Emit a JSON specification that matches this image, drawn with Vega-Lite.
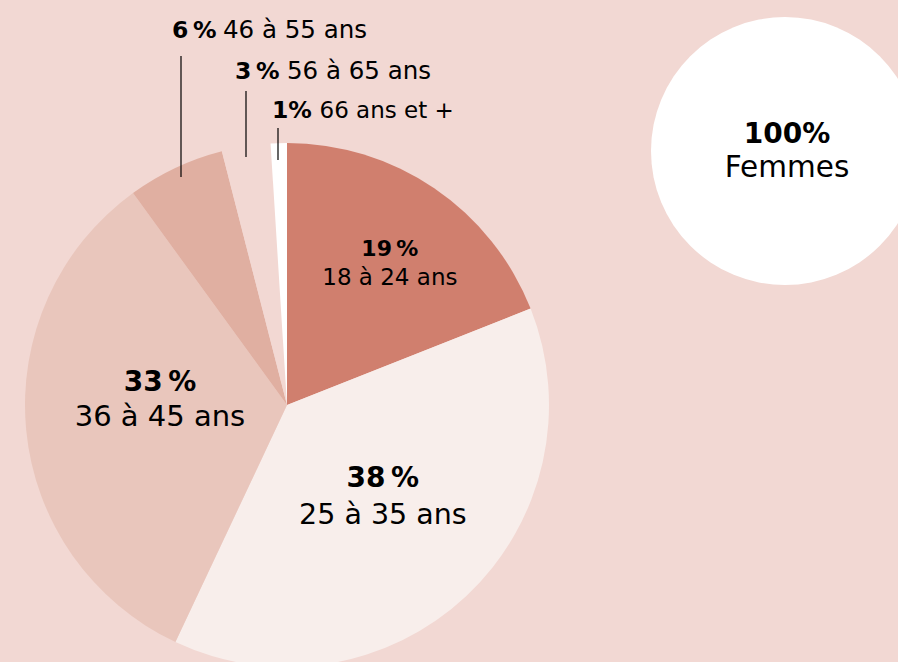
{
  "$schema": "https://vega.github.io/schema/vega-lite/v6.json",
  "width": 898,
  "height": 662,
  "padding": 0,
  "autosize": {"type": "none"},
  "background": "#f2d8d3",
  "config": {"view": {"stroke": null}, "font": "DejaVu Sans", "text": {"font": "DejaVu Sans", "color": "#000000"}},
  "datasets": {
    "ages": [
      {"tranche": "18 à 24 ans", "pct": 19, "rang": 1, "part": "19\u2009%"},
      {"tranche": "25 à 35 ans", "pct": 38, "rang": 2, "part": "38\u2009%"},
      {"tranche": "36 à 45 ans", "pct": 33, "rang": 3, "part": "33\u2009%"},
      {"tranche": "46 à 55 ans", "pct": 6, "rang": 4, "part": "6\u2009%"},
      {"tranche": "56 à 65 ans", "pct": 3, "rang": 5, "part": "3\u2009%"},
      {"tranche": "66 ans et +", "pct": 1, "rang": 6, "part": "1%"}
    ],
    "sexe": [
      {"sexe": "Femmes", "pct": 100, "part": "100%"}
    ]
  },
  "layer": [
    {
      "data": {"name": "ages"},
      "mark": {"type": "arc", "outerRadius": 262},
      "encoding": {
        "x": {"datum": 287, "type": "quantitative", "scale": {"domain": [0, 898], "nice": false, "zero": false}, "axis": null},
        "y": {"datum": 405, "type": "quantitative", "scale": {"domain": [0, 662], "nice": false, "zero": false, "reverse": true}, "axis": null},
        "theta": {"field": "pct", "type": "quantitative", "stack": true},
        "order": {"field": "rang"},
        "color": {"field": "tranche", "type": "nominal", "legend": null,
          "scale": {"domain": ["18 à 24 ans", "25 à 35 ans", "36 à 45 ans", "46 à 55 ans", "56 à 65 ans", "66 ans et +"],
                    "range": ["#d07f6e", "#f8eeeb", "#e9c6bc", "#e0afa1", "#f2d8d3", "#ffffff"]}}
      }
    },
    {
      "data": {"name": "sexe"},
      "mark": {"type": "arc", "outerRadius": 134, "color": "#ffffff"},
      "encoding": {
        "x": {"datum": 785, "type": "quantitative"},
        "y": {"datum": 151, "type": "quantitative"},
        "theta": {"field": "pct", "type": "quantitative", "stack": true}
      }
    },
    {
      "data": {"name": "ages"},
      "mark": {"type": "text", "radius": 183, "dy": 2, "fontSize": 22, "fontWeight": "bold", "align": "center", "baseline": "alphabetic"},
      "encoding": {
        "x": {"datum": 287, "type": "quantitative"},
        "y": {"datum": 405, "type": "quantitative"},
        "theta": {"field": "pct", "type": "quantitative", "stack": true},
        "order": {"field": "rang"},
        "text": {"condition": {"test": "datum.rang === 1", "field": "part"}, "value": ""}
      }
    },
    {
      "data": {"name": "ages"},
      "mark": {"type": "text", "radius": 183, "dy": 31, "fontSize": 23, "align": "center", "baseline": "alphabetic"},
      "encoding": {
        "x": {"datum": 287, "type": "quantitative"},
        "y": {"datum": 405, "type": "quantitative"},
        "theta": {"field": "pct", "type": "quantitative", "stack": true},
        "order": {"field": "rang"},
        "text": {"condition": {"test": "datum.rang === 1", "field": "tranche"}, "value": ""}
      }
    },
    {
      "data": {"name": "ages"},
      "mark": {"type": "text", "radius": 140, "dy": -20, "fontSize": 28, "fontWeight": "bold", "align": "center", "baseline": "alphabetic"},
      "encoding": {
        "x": {"datum": 287, "type": "quantitative"},
        "y": {"datum": 405, "type": "quantitative"},
        "theta": {"field": "pct", "type": "quantitative", "stack": true},
        "order": {"field": "rang"},
        "text": {"condition": {"test": "datum.rang === 2", "field": "part"}, "value": ""}
      }
    },
    {
      "data": {"name": "ages"},
      "mark": {"type": "text", "radius": 140, "dy": 17, "fontSize": 28.5, "align": "center", "baseline": "alphabetic"},
      "encoding": {
        "x": {"datum": 287, "type": "quantitative"},
        "y": {"datum": 405, "type": "quantitative"},
        "theta": {"field": "pct", "type": "quantitative", "stack": true},
        "order": {"field": "rang"},
        "text": {"condition": {"test": "datum.rang === 2", "field": "tranche"}, "value": ""}
      }
    },
    {
      "data": {"name": "ages"},
      "mark": {"type": "text", "radius": 127.6, "dy": -26, "fontSize": 28, "fontWeight": "bold", "align": "center", "baseline": "alphabetic"},
      "encoding": {
        "x": {"datum": 287, "type": "quantitative"},
        "y": {"datum": 405, "type": "quantitative"},
        "theta": {"field": "pct", "type": "quantitative", "stack": true},
        "order": {"field": "rang"},
        "text": {"condition": {"test": "datum.rang === 3", "field": "part"}, "value": ""}
      }
    },
    {
      "data": {"name": "ages"},
      "mark": {"type": "text", "radius": 127.6, "dy": 9, "fontSize": 29, "align": "center", "baseline": "alphabetic"},
      "encoding": {
        "x": {"datum": 287, "type": "quantitative"},
        "y": {"datum": 405, "type": "quantitative"},
        "theta": {"field": "pct", "type": "quantitative", "stack": true},
        "order": {"field": "rang"},
        "text": {"condition": {"test": "datum.rang === 3", "field": "tranche"}, "value": ""}
      }
    },
    {
      "data": {"name": "ages"},
      "transform": [{"filter": "datum.rang === 4"}],
      "mark": {"type": "text", "fontSize": 23.5, "fontWeight": "bold", "align": "left", "baseline": "alphabetic"},
      "encoding": {"x": {"datum": 172, "type": "quantitative"}, "y": {"datum": 38, "type": "quantitative"}, "text": {"field": "part"}}
    },
    {
      "data": {"name": "ages"},
      "transform": [{"filter": "datum.rang === 4"}],
      "mark": {"type": "text", "fontSize": 24.5, "align": "left", "baseline": "alphabetic"},
      "encoding": {"x": {"datum": 223, "type": "quantitative"}, "y": {"datum": 38, "type": "quantitative"}, "text": {"field": "tranche"}}
    },
    {
      "data": {"name": "ages"},
      "transform": [{"filter": "datum.rang === 5"}],
      "mark": {"type": "text", "fontSize": 23.5, "fontWeight": "bold", "align": "left", "baseline": "alphabetic"},
      "encoding": {"x": {"datum": 235, "type": "quantitative"}, "y": {"datum": 79, "type": "quantitative"}, "text": {"field": "part"}}
    },
    {
      "data": {"name": "ages"},
      "transform": [{"filter": "datum.rang === 5"}],
      "mark": {"type": "text", "fontSize": 24.5, "align": "left", "baseline": "alphabetic"},
      "encoding": {"x": {"datum": 287, "type": "quantitative"}, "y": {"datum": 79, "type": "quantitative"}, "text": {"field": "tranche"}}
    },
    {
      "data": {"name": "ages"},
      "transform": [{"filter": "datum.rang === 6"}],
      "mark": {"type": "text", "fontSize": 23.5, "fontWeight": "bold", "align": "left", "baseline": "alphabetic"},
      "encoding": {"x": {"datum": 272, "type": "quantitative"}, "y": {"datum": 118, "type": "quantitative"}, "text": {"field": "part"}}
    },
    {
      "data": {"name": "ages"},
      "transform": [{"filter": "datum.rang === 6"}],
      "mark": {"type": "text", "fontSize": 23, "align": "left", "baseline": "alphabetic"},
      "encoding": {"x": {"datum": 319.5, "type": "quantitative"}, "y": {"datum": 118, "type": "quantitative"}, "text": {"field": "tranche"}}
    },
    {
      "data": {"name": "ages"},
      "transform": [{"filter": "datum.rang === 4"}],
      "mark": {"type": "rule", "color": "#000000", "strokeWidth": 1.2},
      "encoding": {"x": {"datum": 181, "type": "quantitative"}, "y": {"datum": 56, "type": "quantitative"}, "y2": {"datum": 177}}
    },
    {
      "data": {"name": "ages"},
      "transform": [{"filter": "datum.rang === 5"}],
      "mark": {"type": "rule", "color": "#000000", "strokeWidth": 1.2},
      "encoding": {"x": {"datum": 246, "type": "quantitative"}, "y": {"datum": 91, "type": "quantitative"}, "y2": {"datum": 157}}
    },
    {
      "data": {"name": "ages"},
      "transform": [{"filter": "datum.rang === 6"}],
      "mark": {"type": "rule", "color": "#000000", "strokeWidth": 1.2},
      "encoding": {"x": {"datum": 278, "type": "quantitative"}, "y": {"datum": 128, "type": "quantitative"}, "y2": {"datum": 160}}
    },
    {
      "data": {"name": "sexe"},
      "mark": {"type": "text", "fontSize": 28, "fontWeight": "bold", "align": "center", "baseline": "alphabetic"},
      "encoding": {"x": {"datum": 787, "type": "quantitative"}, "y": {"datum": 143, "type": "quantitative"}, "text": {"field": "part"}}
    },
    {
      "data": {"name": "sexe"},
      "mark": {"type": "text", "fontSize": 29.5, "align": "center", "baseline": "alphabetic"},
      "encoding": {"x": {"datum": 787, "type": "quantitative"}, "y": {"datum": 177, "type": "quantitative"}, "text": {"field": "sexe"}}
    }
  ]
}
